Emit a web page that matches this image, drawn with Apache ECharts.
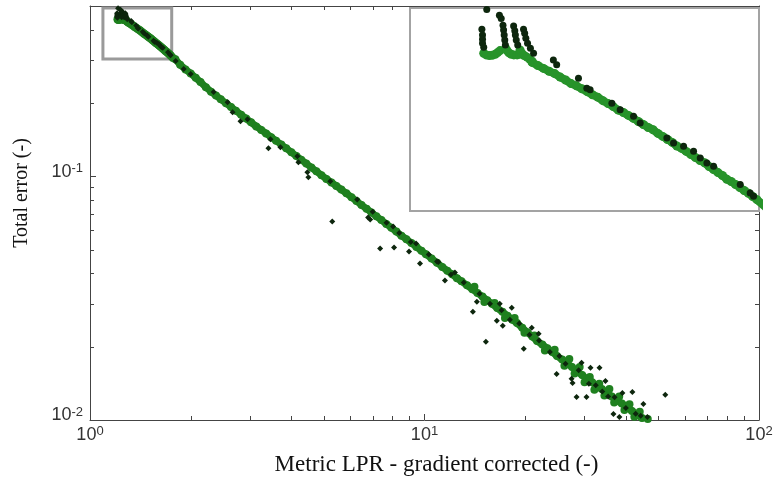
<!DOCTYPE html>
<html><head><meta charset="utf-8">
<script src="https://cdn.jsdelivr.net/npm/echarts@6.0.0/dist/echarts.min.js"></script>
<style>html,body{margin:0;padding:0;background:#fff}#c{width:777px;height:493px}</style>
</head><body><div id="c"></div>
<script>
// ---- axis ticks / labels ----
const xTickVals = [1, 10, 100];
const xTickExp = ['0', '1', '2'];
const yTickVals = [0.01, 0.1];
const yTickExp = ['-2', '-1'];
const xMinorTicks = [2,3,4,5,6,7,8,9,20,30,40,50,60,70,80,90];
const yMinorTicks = [0.02,0.03,0.04,0.05,0.06,0.07,0.08,0.09,0.2,0.3,0.4];
const xRange = [1, 100];
const yRange = [0.01, 0.5];
// zoomed window shown in the inset (also the grey box)
const zoomX = [1.093, 1.755];
const zoomY = [0.303, 0.491];

// ---- data: [metric LPR, total error] ----
const hookGreen = [[1.208,0.4409],[1.212,0.4392],[1.217,0.4385],[1.222,0.4388],[1.227,0.4399],[1.231,0.4416],[1.235,0.4437],[1.2445,0.4461],[1.247,0.4437],[1.250,0.4413],[1.254,0.4399],[1.2585,0.4392],[1.264,0.4392],[1.268,0.4399],[1.272,0.4409],[1.269,0.4444],[1.276,0.4385],[1.281,0.4368],[1.286,0.4347],[1.290,0.4326]];
const hookDark = [[1.213,0.4893],[1.205,0.4667],[1.206,0.4604],[1.206,0.4558],[1.206,0.4515],[1.208,0.4472],[1.234,0.4827],[1.237,0.4789],[1.240,0.4714],[1.241,0.4659],[1.242,0.4604],[1.243,0.4550],[1.244,0.4497],[1.258,0.4703],[1.260,0.4651],[1.261,0.4604],[1.2625,0.4550],[1.265,0.4497],[1.275,0.4667],[1.277,0.4623],[1.279,0.4568],[1.282,0.4515],[1.287,0.4461],[1.2925,0.4409]];
const bandStart = [[1.29,0.4314],[1.30,0.4282],[1.31,0.4253],[1.32,0.4224],[1.33,0.4201],[1.34,0.4166],[1.35,0.4137],[1.36,0.4102],[1.37,0.4080],[1.38,0.4052],[1.39,0.4024],[1.40,0.3995],[1.41,0.3972],[1.42,0.3939],[1.43,0.3912],[1.44,0.3884],[1.45,0.3851],[1.46,0.3830],[1.47,0.3803],[1.48,0.3776],[1.49,0.3749],[1.50,0.3722],[1.51,0.3696],[1.52,0.3676],[1.53,0.3644],[1.54,0.3618],[1.55,0.3592],[1.56,0.3567],[1.57,0.3536],[1.58,0.3516],[1.59,0.3491],[1.60,0.3466],[1.61,0.3441],[1.62,0.3417],[1.63,0.3398],[1.64,0.3368],[1.65,0.3344],[1.66,0.3320],[1.67,0.3297],[1.68,0.3268],[1.69,0.3250],[1.70,0.3227],[1.71,0.3204],[1.72,0.3181],[1.73,0.3161],[1.74,0.3136],[1.75,0.3113]];
const bandMain = [[1.77,0.3060],[1.80,0.3020],[1.86,0.2870],[1.93,0.2746],[2.00,0.2645],[2.07,0.2537],[2.14,0.2438],[2.22,0.2322],[2.30,0.2225],[2.38,0.2147],[2.46,0.2073],[2.55,0.1996],[2.64,0.1925],[2.73,0.1858],[2.83,0.1788],[2.93,0.1725],[3.03,0.1665],[3.14,0.1603],[3.25,0.1550],[3.36,0.1500],[3.48,0.1448],[3.60,0.1400],[3.73,0.1351],[3.86,0.1304],[4.00,0.1256],[4.14,0.1212],[4.28,0.1170],[4.43,0.1128],[4.59,0.1086],[4.75,0.1049],[4.92,0.1010],[5.09,0.0976],[5.27,0.0944],[5.45,0.0913],[5.64,0.0882],[5.84,0.0852],[6.05,0.0821],[6.26,0.0792],[6.48,0.0763],[6.71,0.0736],[6.94,0.0711],[7.18,0.0685],[7.43,0.0662],[7.69,0.0638],[7.96,0.0615],[8.24,0.0593],[8.53,0.0571],[8.83,0.0552],[9.14,0.0532],[9.46,0.0513],[9.79,0.0495],[10.1,0.0479],[10.5,0.0460],[10.9,0.0442],[11.3,0.0425],[11.7,0.0410],[12.1,0.0396],[12.5,0.0382],[12.9,0.0371],[13.4,0.0357],[13.9,0.0344],[14.4,0.0332],[14.9,0.0321],[15.4,0.0310],[15.9,0.0300],[16.5,0.0288],[17.1,0.0278],[17.7,0.0268],[18.3,0.0258],[18.9,0.0250],[19.6,0.0239],[20.3,0.0229],[21.0,0.0220],[21.7,0.0211],[22.5,0.0204],[23.3,0.0197],[24.1,0.0190],[24.9,0.0183],[25.8,0.0177],[26.7,0.0171],[27.6,0.0165],[28.6,0.0158],[29.6,0.0153],[30.6,0.0147],[31.7,0.0143],[32.8,0.0137],[33.9,0.0134],[35.1,0.0129],[36.3,0.0125],[37.6,0.0120],[38.9,0.0117],[40.3,0.0113],[41.7,0.0109],[43.2,0.0105],[44.7,0.0102]];
const bandSpread = [[14.1,0.0352],[15.1,0.0305],[16.2,0.0302],[17.4,0.0262],[18.6,0.0262],[19.9,0.0228],[21.3,0.0222],[22.9,0.0193],[24.5,0.0194],[26.2,0.0167],[27.1,0.0178],[28.1,0.0155],[29.1,0.0165],[30.1,0.0143],[31.2,0.0150],[32.2,0.0133],[33.3,0.0141],[34.5,0.0126],[35.7,0.0134],[36.9,0.0118],[38.2,0.0125],[39.6,0.0110],[41.0,0.0116],[42.4,0.0103],[44.0,0.0108],[45.5,0.0099],[46.5,0.0101]];
const insetDark = [[1.3277,0.4340],[1.3337,0.4289],[1.3737,0.4155],[1.3894,0.4058],[1.3956,0.4042],[1.4374,0.3916],[1.4537,0.3855],[1.4803,0.3795],[1.4937,0.3735],[1.5488,0.3604],[1.5629,0.3562],[1.5843,0.3534],[1.6059,0.3492],[1.6205,0.3437],[1.6352,0.3397],[1.6501,0.3370],[1.7108,0.3227],[1.7341,0.3163],[1.7420,0.3138]];
const darkOnBand = [[1.804,0.2974],[1.906,0.2756],[2.0,0.2629],[2.342,0.2217],[2.578,0.2016],[2.668,0.1834],[2.818,0.1684],[2.958,0.1716],[3.463,0.1420],[3.710,0.1316],[4.169,0.1209],[4.198,0.1142],[5.228,0.0954],[6.293,0.0804],[7.0,0.0715],[7.7,0.0645],[8.4,0.0585],[9.1,0.0537],[10.3,0.0478],[11.0,0.0445],[12.0,0.0395],[13.1,0.0367],[14.6,0.0330],[15.7,0.0300],[17.0,0.0282],[18.0,0.0258],[19.2,0.0249],[20.6,0.0224],[22.0,0.0212],[23.7,0.0190],[25.3,0.0183],[26.4,0.0170],[28.9,0.0160],[31.0,0.0141],[32.5,0.0139],[34.0,0.0131],[35.4,0.0125],[37.0,0.0124],[40.0,0.0112],[42.8,0.0106],[44.3,0.0104]];
const darkOutliers = [[3.416,0.1303],[4.465,0.1039],[4.496,0.0991],[5.300,0.0653],[6.88,0.0665],[6.785,0.0678],[8.056,0.0623],[7.368,0.0506],[8.11,0.0510],[8.99,0.0491],[9.696,0.04385],[9.434,0.0530],[11.51,0.03733],[10.90,0.04468],[12.33,0.04026],[13.95,0.02782],[14.34,0.03059],[15.26,0.02094],[16.79,0.03002],[18.23,0.0289],[16.45,0.02555],[17.14,0.02436],[19.80,0.0196],[20.92,0.0239],[21.94,0.02259],[24.83,0.01546],[28.48,0.01244],[30.50,0.01244],[29.48,0.01716],[31.35,0.01637],[33.35,0.01637],[34.75,0.01447],[39.05,0.01291],[41.83,0.01303],[45.11,0.01164],[52.46,0.01268],[36.72,0.01058],[46.37,0.01029],[38.24,0.01029],[27.71,0.0142],[27.52,0.01475]];

const greenPts = [].concat(hookGreen, bandStart, bandMain, bandSpread);
const bandPath = [].concat(bandStart, bandMain);
const darkPts = [].concat(hookDark, insetDark, darkOnBand, darkOutliers);

const GREEN = '#1f801f', GREEN_IN = '#27932a', DARK = '#0d260d', FRAME = '#444';

function supFormatter(vals, exps) {
  return function (v) {
    for (let i = 0; i < vals.length; i++) {
      if (Math.abs(Math.log10(v) - Math.log10(vals[i])) < 1e-6) return '{b|10}{s|' + exps[i] + '}';
    }
    return '';
  };
}
const labelFont = "'Liberation Sans', Arial, sans-serif";
const serifFont = "'Liberation Serif', 'Times New Roman', serif";

const chart = echarts.init(document.getElementById('c'));
const option = {
  animation: false,
  backgroundColor: '#fff',
  grid: [
    { left: 90, top: 6, right: 18, bottom: 73, outerBoundsMode: 'none' },
    { left: 410, top: 8, right: 18, bottom: 282, show: true, backgroundColor: '#fff', borderColor: '#a3a3a3', borderWidth: 2, z: 3, outerBoundsMode: 'none' }
  ],
  xAxis: [
    { type: 'log', gridIndex: 0, min: xRange[0], max: xRange[1], logBase: 10,
      axisLine: { lineStyle: { color: FRAME, width: 1 } },
      axisTick: { inside: true, length: 6, lineStyle: { color: FRAME } },
      splitLine: { show: false },
      axisLabel: { formatter: supFormatter(xTickVals, xTickExp), margin: 5, showMinLabel: true, showMaxLabel: true, hideOverlap: false,
        rich: { b: { fontSize: 18, fontFamily: labelFont, color: '#333', lineHeight: 19, padding: [7, 0, 0, 0], verticalAlign: 'bottom' },
                s: { fontSize: 13, fontFamily: labelFont, color: '#333', lineHeight: 13, verticalAlign: 'top' } } },
      name: 'Metric LPR - gradient corrected (-)', nameLocation: 'middle', nameGap: 33,
      nameTextStyle: { fontFamily: serifFont, fontSize: 23, color: '#111', padding: [0, 0, 0, 24] } },
    { type: 'log', gridIndex: 0, position: 'top', min: xRange[0], max: xRange[1],
      axisLine: { lineStyle: { color: FRAME, width: 1 } },
      axisTick: { inside: true, length: 6, lineStyle: { color: FRAME } },
      axisLabel: { show: false }, splitLine: { show: false } },
    { type: 'log', gridIndex: 1, min: zoomX[0], max: zoomX[1], show: false }
  ],
  yAxis: [
    { type: 'log', gridIndex: 0, min: yRange[0], max: yRange[1], logBase: 10,
      axisLine: { show: true, lineStyle: { color: FRAME, width: 1 } },
      axisTick: { show: true, inside: true, length: 6, lineStyle: { color: FRAME } },
      splitLine: { show: false },
      axisLabel: { formatter: supFormatter(yTickVals, yTickExp), margin: 7, padding: [0, 0, 10, 0], showMinLabel: true, hideOverlap: false,
        rich: { b: { fontSize: 18, fontFamily: labelFont, color: '#333', lineHeight: 19, padding: [10, 0, 0, 0], verticalAlign: 'bottom' },
                s: { fontSize: 13, fontFamily: labelFont, color: '#333', lineHeight: 13, verticalAlign: 'top' } } },
      name: 'Total error (-)', nameLocation: 'middle', nameGap: 58, nameRotate: 90,
      nameTextStyle: { fontFamily: serifFont, fontSize: 20, color: '#111', padding: [0, 0, 0, 40] } },
    { type: 'log', gridIndex: 0, position: 'right', min: yRange[0], max: yRange[1],
      axisLine: { show: true, lineStyle: { color: FRAME, width: 1 } },
      axisTick: { show: true, inside: true, length: 6, lineStyle: { color: FRAME } },
      axisLabel: { show: false }, splitLine: { show: false } },
    { type: 'log', gridIndex: 1, min: zoomY[0], max: zoomY[1], show: false }
  ],
  series: [
    { type: 'custom', xAxisIndex: 0, yAxisIndex: 0, silent: true, z: 1,
      data: xMinorTicks.map(v => [v, yRange[0]]),
      renderItem: function (params, api) {
        const cs = params.coordSys;
        const p = api.coord([api.value(0), api.value(1)]);
        const x = Math.round(p[0]) + 0.5;
        const st = { stroke: FRAME, lineWidth: 1 };
        return { type: 'group', children: [
          { type: 'line', shape: { x1: x, y1: cs.y + cs.height, x2: x, y2: cs.y + cs.height - 4 }, style: st },
          { type: 'line', shape: { x1: x, y1: cs.y, x2: x, y2: cs.y + 4 }, style: st } ] };
      } },
    { type: 'custom', xAxisIndex: 0, yAxisIndex: 0, silent: true, z: 1,
      data: yMinorTicks.map(v => [xRange[0], v]),
      renderItem: function (params, api) {
        const cs = params.coordSys;
        const p = api.coord([api.value(0), api.value(1)]);
        const y = Math.round(p[1]) + 0.5;
        const st = { stroke: FRAME, lineWidth: 1 };
        return { type: 'group', children: [
          { type: 'line', shape: { x1: cs.x, y1: y, x2: cs.x + 4, y2: y }, style: st },
          { type: 'line', shape: { x1: cs.x + cs.width, y1: y, x2: cs.x + cs.width - 4, y2: y }, style: st } ] };
      } },
    { type: 'line', name: 'band', xAxisIndex: 0, yAxisIndex: 0, data: bandPath, clip: true, z: 2,
      showSymbol: false, symbol: 'none', lineStyle: { color: GREEN, width: 7, cap: 'round', join: 'round' } },
    { type: 'scatter', name: 'green', xAxisIndex: 0, yAxisIndex: 0, data: greenPts, clip: true, z: 3,
      symbol: 'circle', symbolSize: 8, itemStyle: { color: GREEN, opacity: 1 },
      markArea: { silent: true, itemStyle: { color: 'rgba(0,0,0,0)', borderColor: '#9a9a9a', borderWidth: 3 },
        data: [[{ coord: [zoomX[0], zoomY[1]] }, { coord: [zoomX[1], zoomY[0]] }]] } },
    { type: 'scatter', name: 'dark', xAxisIndex: 0, yAxisIndex: 0, data: darkPts, clip: true, z: 4,
      symbol: 'diamond', symbolSize: 6, itemStyle: { color: DARK, opacity: 1 } },
    { type: 'line', name: 'band-inset', xAxisIndex: 2, yAxisIndex: 2, data: bandPath, clip: true, z: 5,
      showSymbol: false, symbol: 'none', lineStyle: { color: GREEN_IN, width: 8, cap: 'round', join: 'round' } },
    { type: 'scatter', name: 'green-inset', xAxisIndex: 2, yAxisIndex: 2, data: greenPts, clip: true, z: 6,
      symbol: 'circle', symbolSize: 9, itemStyle: { color: GREEN_IN, opacity: 1 } },
    { type: 'scatter', name: 'dark-inset', xAxisIndex: 2, yAxisIndex: 2, data: darkPts, clip: true, z: 7,
      symbol: 'circle', symbolSize: 7, itemStyle: { color: DARK, opacity: 1 } }
  ]
};
chart.setOption(option);
</script>
</body></html>
